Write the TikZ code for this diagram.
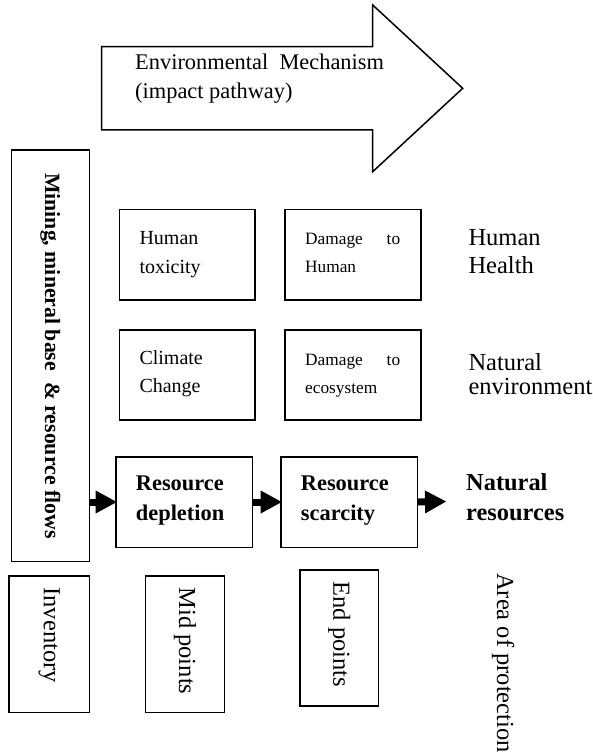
\documentclass[tikz,border=0pt]{standalone}
\usepackage{fontspec}
\setmainfont{Liberation Serif}
\usepackage{graphicx}
\usetikzlibrary{arrows.meta}
\newcommand\fsz[1]{\fontsize{#1}{#1}\selectfont}
\tikzset{
  box/.style={draw, rectangle, line width=1.6pt, inner sep=0pt},
  txt/.style={anchor=base west, inner sep=0pt},
  flow/.style={line width=7pt, -{Triangle[length=21pt,width=23pt,line width=0pt]}},
  pathway/.style={draw, line width=1.5pt, line join=miter}
}
\begin{document}
\begin{tikzpicture}[x=1pt,y=-1pt]
\useasboundingbox (0,0) rectangle (592,754);

% top big arrow (impact pathway)
\draw[pathway] (101.7,46.7) -- (372.7,46.7) -- (372.7,5) -- (462.7,88.3)
  -- (372.7,171.7) -- (372.7,130) -- (101.7,130) -- cycle;
\node[txt] (env1) at (135,69.5) {\fsz{22.4}Environmental\ \ Mechanism};
\node[txt] (env2) at (135,99) {\fsz{22.4}(impact pathway)};

% left tall box
\node[box, line width=1.4pt, minimum width=78.5pt, minimum height=411.7pt] (mining) at (50.5,355.85)
  {\fsz{21.8}\bfseries\rotatebox{-90}{Mining, mineral base\ \ \& resource flows}};

% row 1
\node[box, minimum width=135.7pt, minimum height=90.7pt] (ht) at (187.15,254.65) {};
\node[txt] (ht1) at (139.3,244.3) {\fsz{20}Human};
\node[txt] (ht2) at (139.3,273.3) {\fsz{20}toxicity};
\node[box, minimum width=135.7pt, minimum height=90.7pt] (dh) at (352.85,254.65) {};
\node[txt, text width=95pt] (dh1) at (305,244.3) {\fsz{17.3}Damage\hfill to};
\node[txt] (dh2) at (305,272.7) {\fsz{17.3}Human};
\node[txt] (hh1) at (468.3,245) {\fsz{24.5}Human};
\node[txt] (hh2) at (468.3,273) {\fsz{24.5}Health};

% row 2
\node[box, minimum width=135.7pt, minimum height=90pt] (cc) at (187.15,375) {};
\node[txt] (cc1) at (139.3,364.3) {\fsz{20}Climate};
\node[txt] (cc2) at (139.3,392.7) {\fsz{20}Change};
\node[box, minimum width=135.7pt, minimum height=90pt] (de) at (352.85,375) {};
\node[txt, text width=95pt] (de1) at (305,365) {\fsz{17.3}Damage\hfill to};
\node[txt] (de2) at (305,393.3) {\fsz{17.3}ecosystem};
\node[txt] (ne1) at (468.3,370) {\fsz{24.5}Natural};
\node[txt] (ne2) at (468.3,394) {\fsz{24.5}environment};

% row 3
\node[box, minimum width=136.3pt, minimum height=90.6pt] (rd) at (184.15,502) {};
\node[txt] (rd1) at (135.7,490.7) {\fsz{22.4}\bfseries Resource};
\node[txt] (rd2) at (135.7,520) {\fsz{22.4}\bfseries depletion};
\node[box, minimum width=136.3pt, minimum height=90.6pt] (rs) at (349.15,502) {};
\node[txt] (rs1) at (300.7,490.7) {\fsz{22.4}\bfseries Resource};
\node[txt] (rs2) at (300.7,520) {\fsz{22.4}\bfseries scarcity};
\node[txt] (nr1) at (466,490) {\fsz{24.4}\bfseries Natural};
\node[txt] (nr2) at (466,520) {\fsz{24.4}\bfseries resources};
\coordinate (nrtip) at (446,501.5);

\draw[flow] (mining.east |- rd.west) -- ([xshift=1.5pt]rd.west);
\draw[flow] (rd.east) -- ([xshift=1.5pt]rs.west);
\draw[flow] (rs.east) -- (nrtip);

% bottom labels
\node[box, line width=1.5pt, minimum width=80.3pt, minimum height=136.7pt] (inv) at (49.15,644.35)
  {\fsz{24.5}\rotatebox{-90}{\makebox[113.7pt][l]{Inventory}}};
\node[box, line width=1.5pt, minimum width=78.6pt, minimum height=136.7pt] (mid) at (185,644.35)
  {\fsz{24.5}\rotatebox{-90}{\makebox[113.7pt][l]{Mid points}}};
\node[box, line width=1.5pt, minimum width=78.3pt, minimum height=136pt] (endp) at (339.15,638)
  {\fsz{24.5}\rotatebox{-90}{\makebox[113pt][l]{End points}}};
\node[txt, rotate=-90] (aop) at (497,573) {\fsz{24.5}Area of protection};
\end{tikzpicture}
\end{document}
